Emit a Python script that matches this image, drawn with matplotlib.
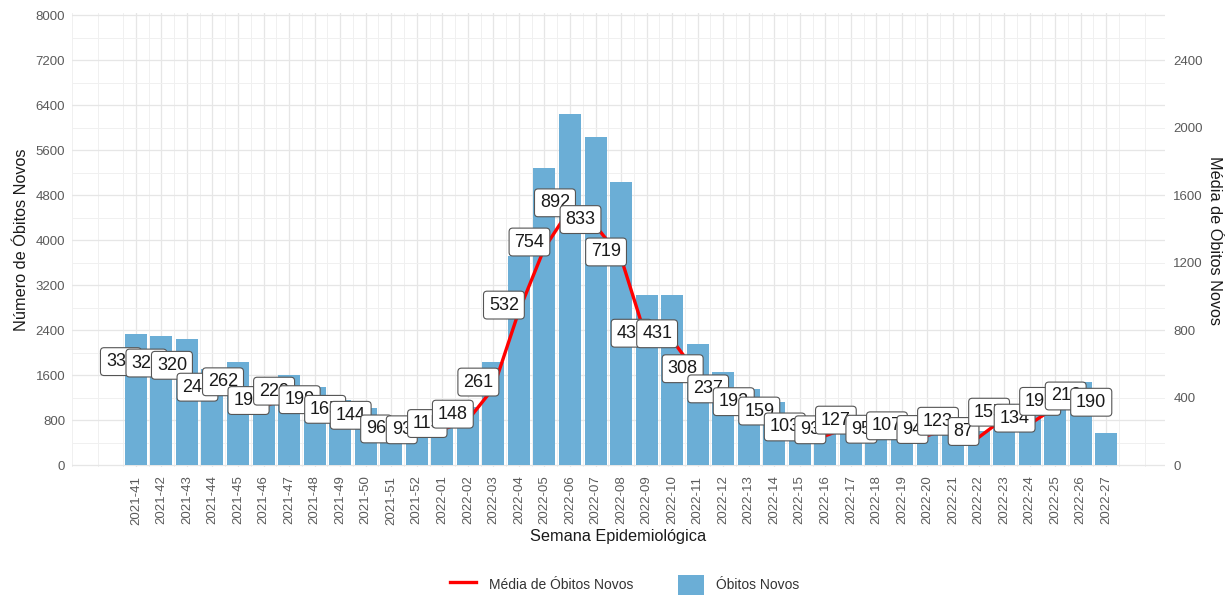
import matplotlib
matplotlib.use('Agg')
import matplotlib.pyplot as plt
from matplotlib.lines import Line2D
from matplotlib.patches import Patch

plt.rcParams['font.family'] = ['Liberation Sans', 'DejaVu Sans']

# Semanas epidemiológicas
semanas = ['2021-41', '2021-42', '2021-43', '2021-44', '2021-45', '2021-46', '2021-47',
           '2021-48', '2021-49', '2021-50', '2021-51', '2021-52', '2022-01', '2022-02',
           '2022-03', '2022-04', '2022-05', '2022-06', '2022-07', '2022-08', '2022-09',
           '2022-10', '2022-11', '2022-12', '2022-13', '2022-14', '2022-15', '2022-16',
           '2022-17', '2022-18', '2022-19', '2022-20', '2022-21', '2022-22', '2022-23',
           '2022-24', '2022-25', '2022-26', '2022-27']

# Óbitos novos por semana
obitos = [2330, 2296, 2240, 1701, 1834, 1372, 1603, 1393, 1155, 1008, 672, 651, 805, 1036,
          1827, 3724, 5278, 6244, 5831, 5033, 3031, 3017, 2156, 1659, 1344, 1113, 721, 651,
          889, 665, 749, 658, 861, 609, 1085, 938, 1351, 1484, 565]

# Média diária de óbitos novos
media = [333, 328, 320, 243, 262, 196, 229, 199, 165, 144, 96, 93, 115, 148,
         261, 532, 754, 892, 833, 719, 433, 431, 308, 237, 192, 159, 103, 93,
         127, 95, 107, 94, 123, 87, 155, 134, 193, 212, 190]

fator_linha = 5.05
desloc_linha = 50
fator_eixo = 3

fig = plt.figure(figsize=(12.25, 5.97), dpi=100)
ax = fig.add_axes([0.0588, 0.2173, 0.8922, 0.7613])

x = list(range(len(semanas)))
ax.bar(x, obitos, width=0.86, color='#6baed6', zorder=2)

y_linha = [m * fator_linha + desloc_linha for m in media]
ax.plot(x, y_linha, color='red', lw=2.4, zorder=3, solid_capstyle='butt')

for xi, yi, m in zip(x, y_linha, media):
    ax.annotate(str(m), xy=(xi, yi), xytext=(-15, 6), textcoords='offset pixels',
                ha='center', va='center', fontsize=13, color='#1a1a1a', zorder=4,
                bbox=dict(boxstyle='round,pad=0.3,rounding_size=0.2', fc='white',
                          ec='#555555', lw=0.8))

ax.set_xlim(-2.37, 40.3)
ax.set_ylim(-40, 8040)
ax.set_yticks(range(0, 8001, 800))
ax.set_yticks(range(400, 8000, 800), minor=True)
ax.set_xticks(x)
ax.set_xticklabels(semanas, rotation=90, fontsize=9.5, color='#5a5a5a')
ax.set_xticks([i + 0.5 for i in range(-3, 40)], minor=True)
ax.tick_params(axis='both', which='both', length=0)
ax.tick_params(axis='y', labelsize=9.5, labelcolor='#5a5a5a', pad=5)
ax.tick_params(axis='x', pad=6)
ax.grid(which='major', color='#e6e6e6', lw=0.9, zorder=0)
ax.grid(which='minor', color='#f0f0f0', lw=0.7, zorder=0)
ax.set_axisbelow(True)
for s in ax.spines.values():
    s.set_visible(False)

ax.set_xlabel('Semana Epidemiológica', fontsize=11.7, color='#1a1a1a', labelpad=3)
ax.set_ylabel('Número de Óbitos Novos', fontsize=11.7, color='#1a1a1a', labelpad=5)

ax2 = ax.twinx()
lo, hi = ax.get_ylim()
ax2.set_ylim(lo / fator_eixo, hi / fator_eixo)
ax2.set_yticks(range(0, 2401, 400))
ax2.tick_params(axis='y', length=0, labelsize=9.5, labelcolor='#5a5a5a', pad=6)
for s in ax2.spines.values():
    s.set_visible(False)
ax2.set_ylabel('Média de Óbitos Novos', fontsize=11.7, color='#1a1a1a', rotation=-90,
               labelpad=14)

handles = [Line2D([0], [0], color='red', lw=2.4),
           Patch(facecolor='#6baed6', edgecolor='none')]
fig.legend(handles, ['Média de Óbitos Novos', 'Óbitos Novos'], loc='lower center',
           bbox_to_anchor=(0.51, -0.018), ncol=2, frameon=False, fontsize=10,
           handlelength=1.9, handleheight=1.9, columnspacing=3.2, handletextpad=0.9,
           labelcolor='#333333')

fig.savefig('out.png', dpi=100)
